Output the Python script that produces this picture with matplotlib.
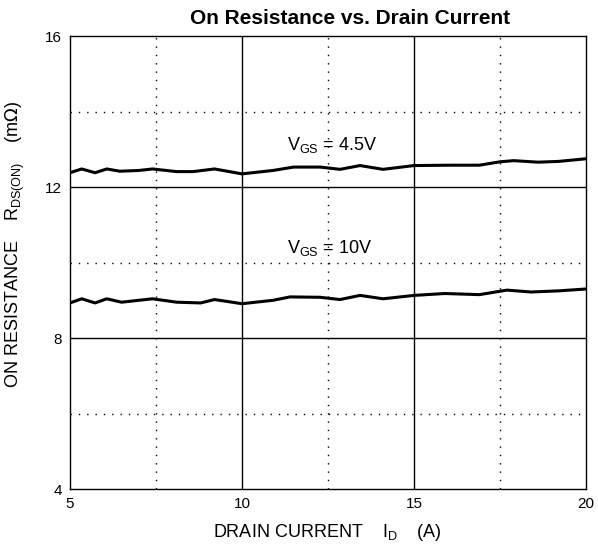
import matplotlib.pyplot as plt

plt.rcParams['font.family'] = ['Liberation Sans', 'DejaVu Sans']

# drain current (A) and on resistance (mOhm)
id_45 = [5.0, 5.34, 5.73, 6.07, 6.45, 7.0, 7.4, 8.1, 8.58, 9.2, 10.0, 10.9, 11.5,
         12.27, 12.85, 13.43, 14.1, 15.0, 16.1, 16.9, 17.5, 17.9, 18.6, 19.2, 20.0]
r_45 = [12.38, 12.48, 12.38, 12.48, 12.42, 12.44, 12.48, 12.41, 12.41, 12.48, 12.35, 12.44, 12.53,
        12.53, 12.47, 12.57, 12.47, 12.57, 12.58, 12.58, 12.67, 12.70, 12.66, 12.68, 12.75]

id_10 = [5.0, 5.34, 5.73, 6.07, 6.5, 7.4, 8.1, 8.8, 9.2, 10.0, 10.9, 11.4,
         12.27, 12.85, 13.43, 14.1, 15.0, 15.9, 16.9, 17.7, 18.4, 19.2, 20.0]
r_10 = [8.93, 9.04, 8.93, 9.04, 8.95, 9.04, 8.95, 8.93, 9.02, 8.91, 9.00, 9.09,
        9.08, 9.02, 9.13, 9.04, 9.13, 9.18, 9.15, 9.27, 9.22, 9.25, 9.30]

x_ticks = [5, 10, 15, 20]
y_ticks = [4, 8, 12, 16]

fig = plt.figure(figsize=(5.98, 5.47), dpi=100)
ax = fig.add_axes([0.117, 0.106, 0.863, 0.828])

# grid: solid majors, dotted minors
for x in [10, 15]:
    ax.axvline(x, color='black', lw=1.0, zorder=1)
for y in [8, 12]:
    ax.axhline(y, color='black', lw=1.0, zorder=1)
for x in [7.5, 12.5, 17.5]:
    ax.axvline(x, color='black', lw=1.0, ls=(0, (1, 5)), zorder=1)
for y in [6, 10, 14]:
    ax.axhline(y, color='black', lw=1.0, ls=(0, (1, 5)), zorder=1)

ax.plot(id_45, r_45, color='black', lw=2.2, zorder=3)
ax.plot(id_10, r_10, color='black', lw=2.2, zorder=3)

ax.text(11.3, 12.99, r'V$_{\mathregular{GS}}$ = 4.5V', fontsize=13)
ax.text(11.3, 10.26, r'V$_{\mathregular{GS}}$ = 10V', fontsize=13)

ax.set_xlim(5, 20)
ax.set_ylim(4, 16)
ax.set_xticks(x_ticks)
ax.set_yticks(y_ticks)
ax.tick_params(length=0, labelsize=11, pad=6)
for s in ax.spines.values():
    s.set_linewidth(1.0)

fig.text(0.585, 0.967, 'On Resistance vs. Drain Current', fontsize=15,
         fontweight='bold', ha='center', va='center')
ax.set_xlabel(r'DRAIN CURRENT    I$_{\mathregular{D}}$    (A)', fontsize=13)
ax.xaxis.set_label_coords(0.498, -0.072)
ax.set_ylabel(r'ON RESISTANCE    R$_{\mathregular{DS(ON)}}$    (m$\Omega$)', fontsize=13)
ax.yaxis.set_label_coords(-0.083, 0.54)

fig.savefig('out.png', dpi=100)
